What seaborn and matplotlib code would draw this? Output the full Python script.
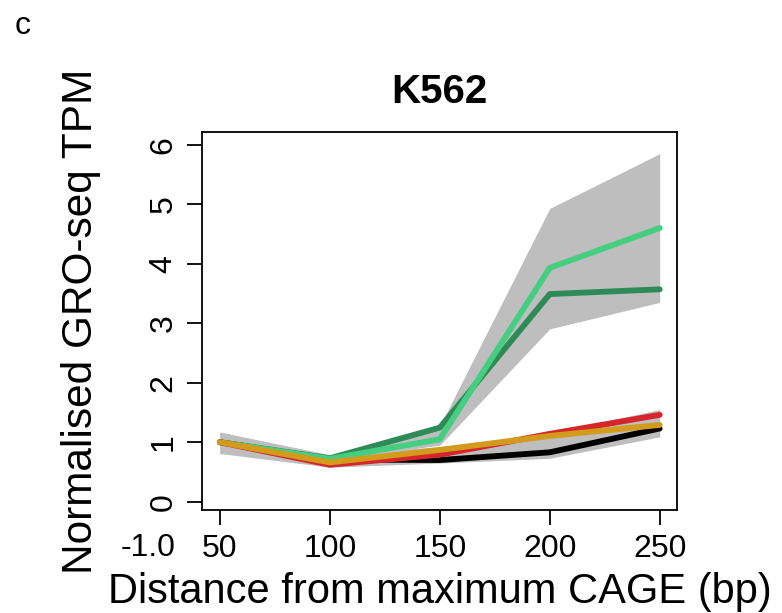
import numpy as np
import pandas as pd
import matplotlib
matplotlib.use("Agg")
import matplotlib.pyplot as plt
import seaborn as sns

# ---- data ----
distance = [50, 100, 150, 200, 250]
series_names = ["black", "dark_green", "light_green", "red", "gold"]
black_vals = [1.00, 0.71, 0.70, 0.83, 1.23]
dark_green_vals = [1.00, 0.73, 1.245, 3.49, 3.57]
light_green_vals = [1.00, 0.72, 1.05, 3.93, 4.60]
red_vals = [1.00, 0.62, 0.79, 1.14, 1.46]
gold_vals = [1.00, 0.66, 0.87, 1.105, 1.29]

# grey confidence bands
green_band_low = [0.81, 0.70, 0.95, 2.905, 3.35]
green_band_high = [1.17, 0.76, 1.27, 4.93, 5.85]
low_band_low = [0.81, 0.58, 0.65, 0.73, 1.09]
low_band_high = [1.17, 0.79, 0.925, 1.15, 1.55]

y_ticks = [0, 1, 2, 3, 4, 5, 6]
x_ticks = [50, 100, 150, 200, 250]

colors = {"black": "#000000", "dark_green": "#2E8B57", "light_green": "#45CE80",
          "red": "#D7262B", "gold": "#D39B1C"}

vals = {"black": black_vals, "dark_green": dark_green_vals,
        "light_green": light_green_vals, "red": red_vals, "gold": gold_vals}
df = pd.DataFrame([(d, s, v) for s in series_names for d, v in zip(distance, vals[s])],
                  columns=["distance", "series", "value"])

sns.set_style("white")
plt.rcParams["font.family"] = ["Liberation Sans", "DejaVu Sans"]
plt.rcParams["text.color"] = "black"
plt.rcParams["axes.labelcolor"] = "black"
plt.rcParams["xtick.color"] = "black"
plt.rcParams["ytick.color"] = "black"

fig = plt.figure(figsize=(7.82, 6.13), dpi=100)
ax = fig.add_axes([0.2587, 0.168, 0.6074, 0.6172])

ax.fill_between(distance, green_band_low, green_band_high, color="#BEBEBE", lw=0, zorder=1)
ax.fill_between(distance, low_band_low, low_band_high, color="#BEBEBE", lw=0, zorder=1)

sns.lineplot(data=df, x="distance", y="value", hue="series", hue_order=series_names,
             palette=colors, linewidth=4.2, legend=False, ax=ax, errorbar=None,
             zorder=3)
for ln in ax.lines:
    ln.set_solid_capstyle("round")
    ln.set_solid_joinstyle("round")

ax.set_xlim(42, 258)
ax.set_ylim(-0.14, 6.22)
ax.set_xticks(x_ticks)
ax.set_xticklabels([str(v) for v in x_ticks])
ax.set_yticks(y_ticks)
ax.set_yticklabels([str(v) for v in y_ticks], rotation=90, va="center")

for sp in ax.spines.values():
    sp.set_visible(True)
    sp.set_color("black")
    sp.set_linewidth(1.3)

ax.tick_params(axis="both", direction="out", length=11, width=1.3, colors="black",
               labelsize=23, left=True, bottom=True)
ax.tick_params(axis="x", pad=6)
ax.tick_params(axis="y", pad=6)

ax.set_xlabel("Distance from maximum CAGE (bp)", fontsize=30, labelpad=6)
ax.set_ylabel("Normalised GRO-seq TPM", fontsize=30.5, labelpad=34)
ax.set_title("K562", fontsize=29, fontweight="bold", pad=21)

fig.text(0.189, 0.106, "-1.0", fontsize=23, ha="center", va="center")
fig.text(0.029, 0.958, "c", fontsize=23, ha="center", va="center")

fig.savefig("out.png", dpi=100)
